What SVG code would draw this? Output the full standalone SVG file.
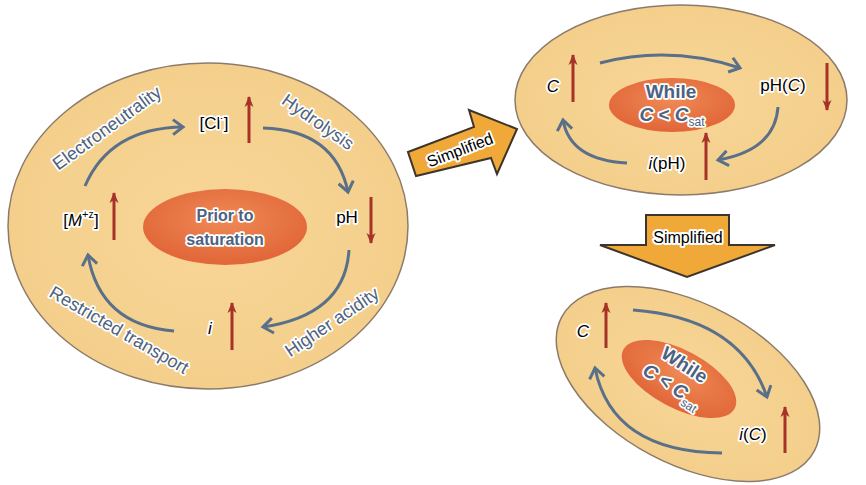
<svg xmlns="http://www.w3.org/2000/svg" width="866" height="485" viewBox="0 0 866 485">
<defs>
<radialGradient id="outerG" cx="50%" cy="50%" r="50%">
<stop offset="0" stop-color="#f8d697"/><stop offset="1" stop-color="#f4cf8c"/>
</radialGradient>
<radialGradient id="innerG" cx="50%" cy="40%" r="55%">
<stop offset="0" stop-color="#ee8a55"/><stop offset="1" stop-color="#e2683a"/>
</radialGradient>
<marker id="chev" markerUnits="userSpaceOnUse" markerWidth="18" markerHeight="18" refX="12" refY="9" orient="auto">
<path d="M2,1.5 L12,9 L2,16.5" fill="none" stroke="#5a7089" stroke-width="3" stroke-linejoin="miter"/>
</marker>
<marker id="redHead" markerUnits="userSpaceOnUse" markerWidth="12" markerHeight="12" refX="10" refY="6" orient="auto">
<path d="M0,1.5 L11,6 L0,10.5 L3,6 Z" fill="#a63228"/>
</marker>
</defs>
<style>
.outer{fill:url(#outerG);stroke:#8c7b6b;stroke-width:1.5}
.inner{fill:url(#innerG)}
.flow{fill:none;stroke:#5a7089;stroke-width:3;marker-end:url(#chev)}
.up{stroke:#a63228;stroke-width:3;marker-end:url(#redHead)}
.lbl{font-family:"Liberation Sans",Arial,sans-serif;font-size:17px;fill:#000;stroke:#fff;stroke-width:3.5;stroke-linejoin:round;paint-order:stroke;text-anchor:middle;dominant-baseline:central}
.arc{font-family:"Liberation Sans",Arial,sans-serif;font-size:18px;fill:#4d6280;stroke:#fff;stroke-width:3.5;stroke-linejoin:round;paint-order:stroke;text-anchor:middle;dominant-baseline:central}
.core{font-family:"Liberation Sans",Arial,sans-serif;font-size:16px;font-weight:bold;fill:#4d6280;stroke:#fff;stroke-width:3.5;stroke-linejoin:round;paint-order:stroke;text-anchor:middle;dominant-baseline:central}
.big{font-size:19px}
.simp{fill:#f0a838;stroke:#3d352c;stroke-width:2;stroke-linejoin:miter}
.simpT{font-family:"Liberation Sans",Arial,sans-serif;font-size:16px;fill:#000;stroke:#fff;stroke-width:4;stroke-linejoin:round;paint-order:stroke;text-anchor:middle;dominant-baseline:central}
</style>

<g id="cycle-prior">
<ellipse class="outer" cx="208" cy="226" rx="200" ry="163"/>
<ellipse class="inner" cx="225" cy="227" rx="82" ry="38"/>
<text class="core" x="225" y="215">Prior to</text>
<text class="core" x="225" y="239">saturation</text>
<text class="lbl" x="214" y="123">[Cl<tspan font-size="11" dy="-6">-</tspan><tspan dy="6">]</tspan></text>
<text class="lbl" x="347" y="217">pH</text>
<text class="lbl" x="81" y="220">[<tspan font-style="italic">M</tspan><tspan font-size="11" dy="-6">+z</tspan><tspan dy="6">]</tspan></text>
<text class="lbl" x="210" y="328" font-style="italic">i</text>
<g transform="translate(107,128) rotate(-36)"><text class="arc" x="0" y="0">Electroneutrality</text></g>
<g transform="translate(318,122) rotate(35)"><text class="arc" x="0" y="0">Hydrolysis</text></g>
<g transform="translate(119,330) rotate(30)"><text class="arc" x="0" y="0">Restricted transport</text></g>
<g transform="translate(332,322) rotate(-34)"><text class="arc" x="0" y="0">Higher acidity</text></g>
</g>

<g id="cycle-while">
<ellipse class="outer" cx="681" cy="100" rx="166" ry="95"/>
<ellipse class="inner" cx="672" cy="105" rx="63" ry="27"/>
<text class="core big" x="671" y="91">While</text>
<text class="core big" x="672" y="114"><tspan font-style="italic">C</tspan> &lt; <tspan font-style="italic">C</tspan><tspan font-size="12" font-weight="normal" dy="8">sat</tspan></text>
<text class="lbl" x="553" y="86" font-style="italic">C</text>
<text class="lbl" x="783" y="85">pH(<tspan font-style="italic">C</tspan>)</text>
<text class="lbl" x="667" y="163"><tspan font-style="italic">i</tspan>(pH)</text>
</g>

<g id="cycle-while-simple">
<ellipse class="outer" cx="688" cy="384" rx="143" ry="80" transform="rotate(28 688 384)"/>
<ellipse class="inner" cx="679" cy="379" rx="63" ry="29" transform="rotate(28 679 379)"/>
<g transform="translate(679,379) rotate(33)">
<text class="core big" x="-3" y="-15">While</text>
<text class="core big" x="-2" y="9"><tspan font-style="italic">C</tspan> &lt; <tspan font-style="italic">C</tspan><tspan font-size="12" font-weight="normal" dy="8">sat</tspan></text>
</g>
<text class="lbl" x="583" y="331" font-style="italic">C</text>
<text class="lbl" x="753" y="434"><tspan font-style="italic">i</tspan>(<tspan font-style="italic">C</tspan>)</text>
</g>

<g id="simplified-1">
<polygon class="simp" points="408,152 474,127 469,110 517,129 497,174 491,158 416,176"/>
<g transform="translate(460,150) rotate(-21)"><text class="simpT" x="0" y="0">Simplified</text></g>
</g>

<g id="simplified-2">
<polygon class="simp" points="646,215 729,215 729,245 775,245 687,277 600,245 646,245"/>
<text class="simpT" x="688" y="237">Simplified</text>
</g>

<g id="connectors">
<path class="flow" d="M85,186 Q110,128 183,127"/>
<path class="flow" d="M263,128 Q335,130 348,192"/>
<path class="flow" d="M349,250 Q345,315 263,327"/>
<path class="flow" d="M174,331 Q100,325 88,255"/>
<line class="up" x1="249" y1="143" x2="249" y2="97"/>
<line class="up" x1="371" y1="197" x2="371" y2="243"/>
<line class="up" x1="114" y1="240" x2="114" y2="193"/>
<line class="up" x1="232" y1="350" x2="232" y2="303"/>

<path class="flow" d="M600,63 Q670,45 740,68"/>
<path class="flow" d="M778,107 Q775,150 718,160"/>
<path class="flow" d="M627,163 Q570,160 563,120"/>
<line class="up" x1="573" y1="102" x2="573" y2="55"/>
<line class="up" x1="827" y1="63" x2="827" y2="110"/>
<line class="up" x1="706" y1="180" x2="706" y2="133"/>

<path class="flow" d="M633,310 Q740,318 767,397"/>
<path class="flow" d="M722,453 Q612,452 595,368"/>
<line class="up" x1="606" y1="348" x2="606" y2="303"/>
<line class="up" x1="785" y1="453" x2="785" y2="407"/>
</g>
</svg>
